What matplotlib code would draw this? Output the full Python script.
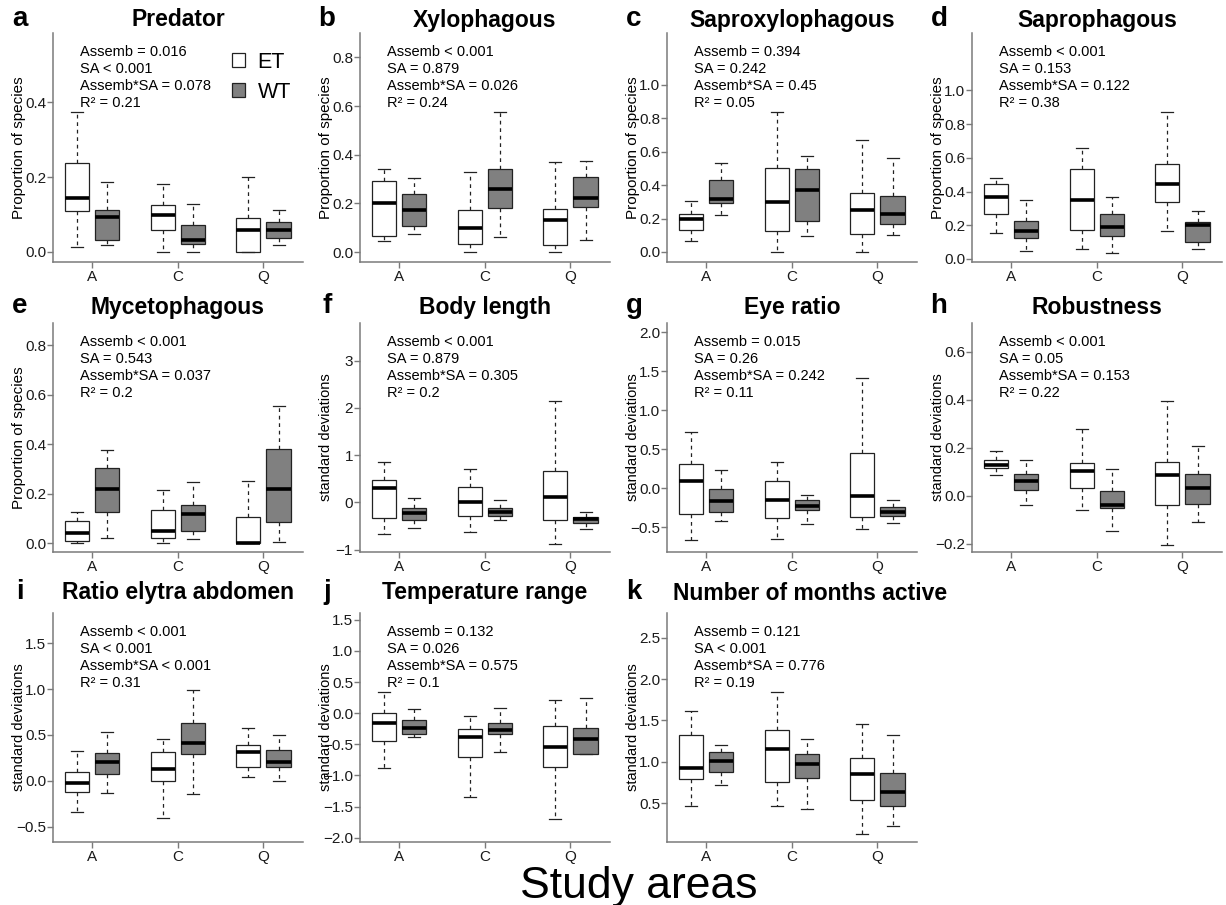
import matplotlib

matplotlib.use("Agg")
import matplotlib.pyplot as plt
from matplotlib.patches import Patch

plt.rcParams["font.family"] = ["Liberation Sans", "DejaVu Sans"]

AREAS = ["A", "C", "Q"]
GROUPS = ["ET", "WT"]

# one tuple per study area (A, C, Q):
# (lower whisker, lower quartile, median, upper quartile, upper whisker)
predator_et = [(0.012, 0.110, 0.145, 0.238, 0.375), (0.0, 0.058, 0.098, 0.124, 0.181), (0.0, 0.0, 0.058, 0.091, 0.199)]
predator_wt = [(0.018, 0.033, 0.093, 0.111, 0.186), (0.0, 0.021, 0.031, 0.071, 0.128), (0.018, 0.037, 0.058, 0.079, 0.113)]
xylo_et = [(0.044, 0.067, 0.201, 0.290, 0.342), (0.0, 0.033, 0.098, 0.174, 0.327), (0.0, 0.027, 0.133, 0.176, 0.368)]
xylo_wt = [(0.074, 0.108, 0.174, 0.240, 0.304), (0.062, 0.181, 0.260, 0.340, 0.577), (0.051, 0.187, 0.224, 0.310, 0.372)]
saproxylo_et = [(0.065, 0.133, 0.197, 0.228, 0.303), (0.0, 0.127, 0.300, 0.500, 0.840), (0.0, 0.110, 0.250, 0.355, 0.667)]
saproxylo_wt = [(0.223, 0.290, 0.318, 0.432, 0.533), (0.097, 0.188, 0.373, 0.495, 0.575), (0.100, 0.167, 0.228, 0.333, 0.560)]
sapro_et = [(0.153, 0.265, 0.365, 0.443, 0.480), (0.058, 0.172, 0.351, 0.532, 0.660), (0.165, 0.336, 0.445, 0.562, 0.873)]
sapro_wt = [(0.048, 0.127, 0.165, 0.225, 0.348), (0.035, 0.138, 0.187, 0.265, 0.366), (0.060, 0.100, 0.200, 0.222, 0.283)]
myceto_et = [(0.0, 0.007, 0.040, 0.088, 0.125), (0.0, 0.020, 0.050, 0.132, 0.215), (0.0, 0.0, 0.0, 0.107, 0.250)]
myceto_wt = [(0.020, 0.127, 0.220, 0.303, 0.377), (0.015, 0.050, 0.117, 0.155, 0.247), (0.005, 0.085, 0.220, 0.382, 0.555)]
body_et = [(-0.67, -0.32, 0.30, 0.48, 0.85), (-0.63, -0.28, 0.01, 0.32, 0.70), (-0.87, -0.38, 0.11, 0.66, 2.15)]
body_wt = [(-0.55, -0.38, -0.23, -0.11, 0.09), (-0.38, -0.28, -0.21, -0.12, 0.06), (-0.57, -0.43, -0.35, -0.31, -0.21)]
eye_et = [(-0.67, -0.33, 0.093, 0.305, 0.72), (-0.65, -0.38, -0.148, 0.093, 0.34), (-0.53, -0.37, -0.106, 0.445, 1.41)]
eye_wt = [(-0.42, -0.31, -0.16, -0.013, 0.233), (-0.466, -0.284, -0.233, -0.157, -0.085), (-0.445, -0.36, -0.31, -0.246, -0.157)]
robust_et = [(0.088, 0.118, 0.130, 0.148, 0.185), (-0.060, 0.033, 0.103, 0.135, 0.280), (-0.205, -0.040, 0.088, 0.140, 0.393)]
robust_wt = [(-0.037, 0.023, 0.063, 0.092, 0.150), (-0.148, -0.050, -0.037, 0.020, 0.112), (-0.107, -0.035, 0.032, 0.090, 0.207)]
elytra_et = [(-0.335, -0.12, -0.025, 0.098, 0.32), (-0.41, 0.0, 0.125, 0.31, 0.455), (0.04, 0.15, 0.31, 0.395, 0.575)]
elytra_wt = [(-0.135, 0.07, 0.205, 0.30, 0.535), (-0.145, 0.29, 0.41, 0.635, 0.99), (0.0, 0.15, 0.205, 0.335, 0.50)]
temp_et = [(-0.88, -0.45, -0.15, 0.01, 0.34), (-1.35, -0.70, -0.39, -0.26, -0.05), (-1.70, -0.86, -0.55, -0.21, 0.21)]
temp_wt = [(-0.38, -0.34, -0.23, -0.11, 0.06), (-0.63, -0.34, -0.27, -0.15, 0.09), (-0.66, -0.66, -0.42, -0.24, 0.24)]
months_et = [(0.47, 0.79, 0.92, 1.33, 1.62), (0.46, 0.75, 1.155, 1.39, 1.85), (0.13, 0.54, 0.85, 1.05, 1.46)]
months_wt = [(0.72, 0.88, 1.01, 1.12, 1.20), (0.43, 0.81, 0.97, 1.09, 1.28), (0.22, 0.46, 0.63, 0.87, 1.33)]

letters = list("abcdefghijk")
titles = ["Predator", "Xylophagous", "Saproxylophagous", "Saprophagous", "Mycetophagous",
          "Body length", "Eye ratio", "Robustness", "Ratio elytra abdomen",
          "Temperature range", "Number of months active"]
ylabels = ["Proportion of species"] * 5 + ["standard deviations"] * 6
stats_text = [
    ["Assemb = 0.016", "SA < 0.001", "Assemb*SA = 0.078", "R² = 0.21"],
    ["Assemb < 0.001", "SA = 0.879", "Assemb*SA = 0.026", "R² = 0.24"],
    ["Assemb = 0.394", "SA = 0.242", "Assemb*SA = 0.45", "R² = 0.05"],
    ["Assemb < 0.001", "SA = 0.153", "Assemb*SA = 0.122", "R² = 0.38"],
    ["Assemb < 0.001", "SA = 0.543", "Assemb*SA = 0.037", "R² = 0.2"],
    ["Assemb < 0.001", "SA = 0.879", "Assemb*SA = 0.305", "R² = 0.2"],
    ["Assemb = 0.015", "SA = 0.26", "Assemb*SA = 0.242", "R² = 0.11"],
    ["Assemb < 0.001", "SA = 0.05", "Assemb*SA = 0.153", "R² = 0.22"],
    ["Assemb < 0.001", "SA < 0.001", "Assemb*SA < 0.001", "R² = 0.31"],
    ["Assemb = 0.132", "SA = 0.026", "Assemb*SA = 0.575", "R² = 0.1"],
    ["Assemb = 0.121", "SA < 0.001", "Assemb*SA = 0.776", "R² = 0.19"],
]
panels_et = [predator_et, xylo_et, saproxylo_et, sapro_et, myceto_et, body_et,
             eye_et, robust_et, elytra_et, temp_et, months_et]
panels_wt = [predator_wt, xylo_wt, saproxylo_wt, sapro_wt, myceto_wt, body_wt,
             eye_wt, robust_wt, elytra_wt, temp_wt, months_wt]

# axis layout (R-style fixed ranges)
YLIMS = [(-0.027, 0.585), (-0.041, 0.9), (-0.06, 1.31), (-0.018, 1.34),
         (-0.036, 0.89), (-1.05, 3.8), (-0.82, 2.12), (-0.234, 0.72),
         (-0.667, 1.83), (-2.07, 1.61), (0.03, 2.8)]
YTICKS = [[0, 0.2, 0.4], [0, 0.2, 0.4, 0.6, 0.8], [0, 0.2, 0.4, 0.6, 0.8, 1.0],
          [0, 0.2, 0.4, 0.6, 0.8, 1.0], [0, 0.2, 0.4, 0.6, 0.8], [-1, 0, 1, 2, 3],
          [-0.5, 0, 0.5, 1.0, 1.5, 2.0], [-0.2, 0, 0.2, 0.4, 0.6],
          [-0.5, 0, 0.5, 1.0, 1.5], [-2.0, -1.5, -1.0, -0.5, 0, 0.5, 1.0, 1.5],
          [0.5, 1.0, 1.5, 2.0, 2.5]]
YFMT = ["{:.1f}"] * 5 + ["{:.0f}"] + ["{:.1f}"] * 5

W, H = 1226, 905
COL_LEFT = [53, 360, 667, 972]
ROW_BOTTOM = [262, 552, 842]
AX_W, AX_H = 250, 229
TITLE_OFF = [13, 16, 20]
TITLE_DX = [0] * 10 + [18]
SPINE = "#7a7a7a"
GRAY = "#808080"


def to_stats(rows):
    return [dict(whislo=r[0], q1=r[1], med=r[2], q3=r[3], whishi=r[4], fliers=[])
            for r in rows]


fig = plt.figure(figsize=(W / 100, H / 100), dpi=100)

for i in range(11):
    row, col = divmod(i, 4)
    ax = fig.add_axes([COL_LEFT[col] / W, 1 - ROW_BOTTOM[row] / H, AX_W / W, AX_H / H])
    for data, offset, face in [(panels_et[i], -0.175, "white"), (panels_wt[i], 0.175, GRAY)]:
        ax.bxp(
            to_stats(data),
            positions=[p + offset for p in (1, 2, 3)],
            widths=0.28,
            capwidths=0.14,
            patch_artist=True,
            showfliers=False,
            manage_ticks=False,
            boxprops=dict(facecolor=face, edgecolor="#222222", linewidth=0.9),
            medianprops=dict(color="black", linewidth=2.6, solid_capstyle="butt"),
            whiskerprops=dict(color="#222222", linewidth=0.9, linestyle=(0, (3, 3))),
            capprops=dict(color="#222222", linewidth=0.9),
        )
    ax.set_xlim(0.55, 3.46)
    ax.set_ylim(*YLIMS[i])
    ax.set_xticks([1, 2, 3], AREAS)
    ax.set_yticks(YTICKS[i], [YFMT[i].format(v).replace("-", "\u2212") for v in YTICKS[i]])
    for s in ("top", "right"):
        ax.spines[s].set_visible(False)
    for s in ("left", "bottom"):
        ax.spines[s].set_color(SPINE)
        ax.spines[s].set_linewidth(1.1)
    ax.tick_params(direction="out", length=4, width=1.0, color=SPINE,
                   labelsize=11, labelcolor="#1a1a1a", pad=1)
    ax.tick_params(axis="x", pad=2)
    ax.set_ylabel(ylabels[i], fontsize=11 if i < 5 else 10.5)
    ax.yaxis.set_label_coords(-27 / AX_W, 0.5)

    ax.annotate(titles[i], xy=(0.5, 1), xycoords="axes fraction",
                xytext=(TITLE_DX[i], TITLE_OFF[row]), textcoords="offset pixels",
                ha="center", va="center", fontsize=16.5, fontweight="bold")
    ax.annotate(letters[i], xy=(0, 1), xycoords="axes fraction",
                xytext=(-33, TITLE_OFF[row] + 1), textcoords="offset pixels",
                ha="center", va="center", fontsize=20, fontweight="bold")
    ax.annotate("\n".join(stats_text[i]), xy=(0, 1), xycoords="axes fraction",
                xytext=(27, -12), textcoords="offset pixels",
                ha="left", va="top", fontsize=10.5, linespacing=1.28)

    if i == 0:
        handles = [Patch(facecolor="white", edgecolor="#222222", linewidth=0.9),
                   Patch(facecolor=GRAY, edgecolor="#222222", linewidth=0.9)]
        ax.legend(handles, GROUPS, loc="upper left", bbox_to_anchor=(0.68, 0.955),
                  frameon=False, fontsize=15.5, handlelength=0.6, handleheight=0.6,
                  handletextpad=0.6, labelspacing=0.4, borderaxespad=0)

fig.text(639 / W, 1 - 886 / H, "Study areas", ha="center", va="center", fontsize=32)

fig.savefig("out.png", dpi=100)
